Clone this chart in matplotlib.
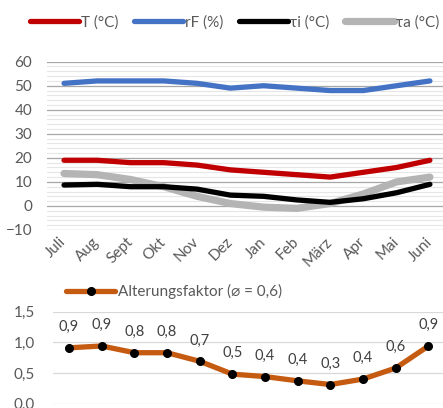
import matplotlib.pyplot as plt
from matplotlib.ticker import MultipleLocator

plt.rcParams['font.family'] = ['Lato', 'DejaVu Sans']

# Monatsdaten
monate = ["Juli", "Aug", "Sept", "Okt", "Nov", "Dez", "Jan", "Feb", "März", "Apr", "Mai", "Juni"]
temp = [19, 19, 18, 18, 17, 15, 14, 13, 12, 14, 16, 19]
rf = [51, 52, 52, 52, 51, 49, 50, 49, 48, 48, 50, 52]
tau_i = [8.7, 9, 8, 8, 7, 4.5, 4, 2.5, 1.5, 3, 5.5, 9]
tau_a = [13.5, 13, 11, 8, 4, 1, -0.5, -1, 1, 5, 10, 12]
alterung = [0.91, 0.94, 0.83, 0.83, 0.69, 0.48, 0.44, 0.37, 0.31, 0.40, 0.58, 0.94]

txt = '#595959'
x = list(range(len(monate)))

fig = plt.figure(figsize=(4.43, 4.08), dpi=100)

# oberes Diagramm
ax = fig.add_axes([0.107, 0.4363, 0.901, 0.4125])
ax.plot(x, tau_a, color='#B4B4B4', lw=5.2, solid_capstyle='round', zorder=3, label='τa (°C)')
ax.plot(x, temp, color='#C00000', lw=3.8, solid_capstyle='round', zorder=4, label='T (°C)')
ax.plot(x, rf, color='#4472C4', lw=3.8, solid_capstyle='round', zorder=4, label='rF (%)')
ax.plot(x, tau_i, color='#000000', lw=3.8, solid_capstyle='round', zorder=4, label='τi (°C)')
ax.set_xlim(-0.5, 11.5)
ax.set_ylim(-10, 60)
ax.yaxis.set_major_locator(MultipleLocator(10))
ax.yaxis.set_minor_locator(MultipleLocator(2))
ax.grid(axis='y', which='major', color='#A6A6A6', lw=0.9, zorder=0)
ax.grid(axis='y', which='minor', color='#E6E6E6', lw=0.8, zorder=0)
for s in ax.spines.values():
    s.set_visible(False)
ax.set_xticks(x)
ax.set_xticklabels(monate, rotation=45, ha='right', va='center', rotation_mode='anchor')
ax.tick_params(axis='both', which='both', length=0, colors=txt, labelsize=11)
ax.tick_params(axis='y', pad=11)
ax.tick_params(axis='x', pad=7)

h, l = ax.get_legend_handles_labels()
order = [1, 2, 3, 0]
fig.legend([h[i] for i in order], [l[i] for i in order], loc='center', bbox_to_anchor=(0.53, 0.945),
           ncol=4, frameon=False, fontsize=11, handlelength=3.2, handletextpad=0.15,
           columnspacing=1.0, labelcolor=txt)

# unteres Diagramm
ax2 = fig.add_axes([0.119, 0.011, 0.885, 0.225])
ax2.plot(x, alterung, color='#C55A11', lw=3.8, marker='o', ms=5.5, mfc='black', mec='black',
         solid_capstyle='round', label='Alterungsfaktor (⌀ = 0,6)')
for xi, v in zip(x, alterung):
    ax2.annotate(f"{v:.1f}".replace('.', ','), (xi, v), xytext=(0, 10), textcoords='offset points',
                 ha='center', va='bottom', color='#404040', fontsize=10.5)
ax2.set_xlim(-0.5, 11.5)
ax2.set_ylim(0, 1.5)
ax2.set_yticks([0, 0.5, 1.0, 1.5])
ax2.set_yticklabels(['0,0', '0,5', '1,0', '1,5'])
ax2.set_xticks([])
ax2.grid(axis='y', color='#D9D9D9', lw=0.9, zorder=0)
for s in ax2.spines.values():
    s.set_visible(False)
ax2.tick_params(axis='y', length=0, colors=txt, labelsize=11, pad=13)
ax2.legend(loc='center left', bbox_to_anchor=(0.0, 1.22), frameon=False, fontsize=11,
           handlelength=3.2, handletextpad=0.15, labelcolor=txt)

fig.savefig('out.png', dpi=100)
